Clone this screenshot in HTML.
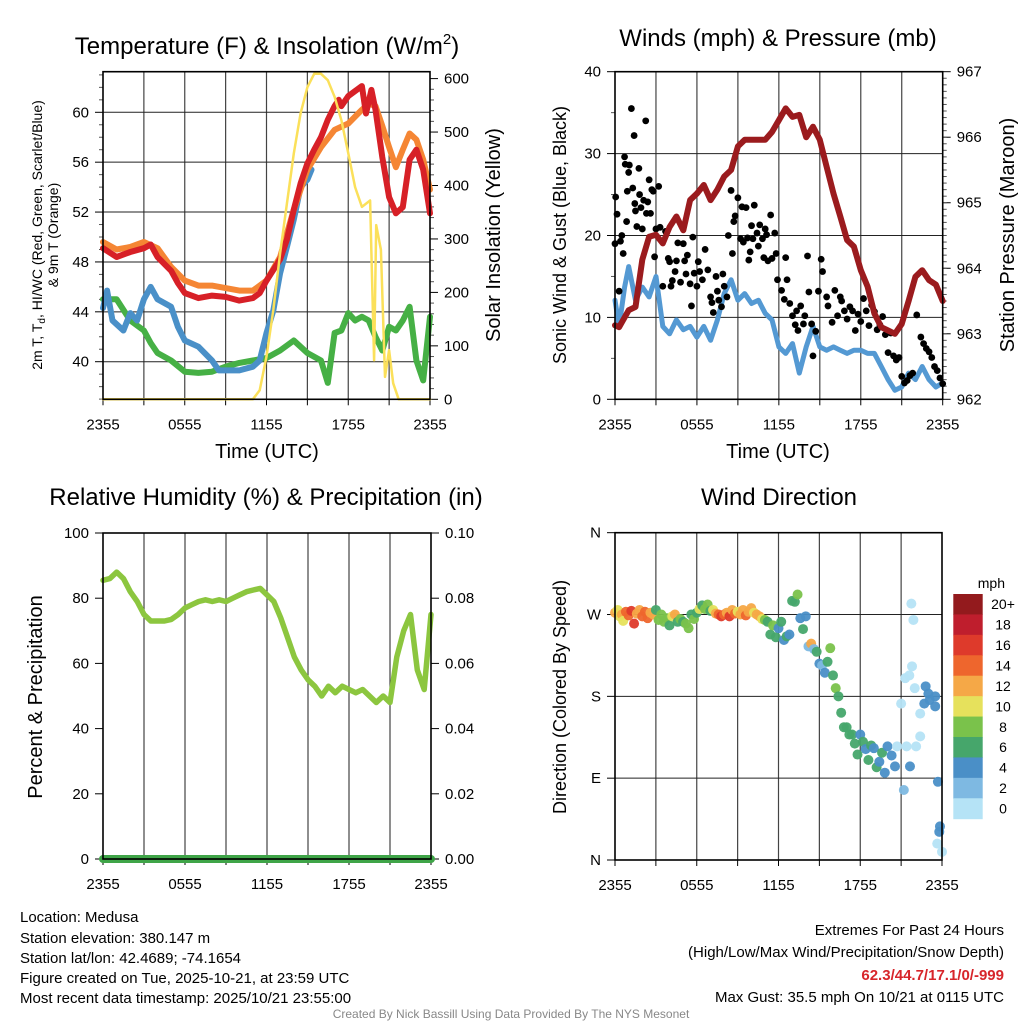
<!DOCTYPE html>
<html><head><meta charset="utf-8"><style>
body{margin:0;background:#fff}
svg text{font-family:"Liberation Sans",sans-serif;fill:#000}
</style></head><body>
<svg id="c" width="1024" height="1024" viewBox="0 0 1024 1024">
<rect width="1024" height="1024" fill="#fff"/>
<g id="g"></g>
<text x="267" y="54" font-size="24" text-anchor="middle">Temperature (F) &amp; Insolation (W/m<tspan font-size="15" dy="-10">2</tspan><tspan dy="10">)</tspan></text>
<text x="778" y="46" font-size="24" text-anchor="middle">Winds (mph) &amp; Pressure (mb)</text>
<text x="266" y="505" font-size="24" text-anchor="middle">Relative Humidity (%) &amp; Precipitation (in)</text>
<text x="779" y="505" font-size="24" text-anchor="middle">Wind Direction</text>
<text transform="translate(42,235) rotate(-90)" font-size="14" text-anchor="middle">2m T, T<tspan font-size="10" dy="3">d</tspan><tspan dy="-3">, HI/WC (Red, Green, Scarlet/Blue)</tspan></text>
<text transform="translate(58,235) rotate(-90)" font-size="14" text-anchor="middle">&amp; 9m T (Orange)</text>
<text transform="translate(500,235) rotate(-90)" font-size="20" text-anchor="middle">Solar Insolation (Yellow)</text>
<text transform="translate(566,235) rotate(-90)" font-size="18" text-anchor="middle">Sonic Wind &amp; Gust (Blue, Black)</text>
<text transform="translate(1014,235) rotate(-90)" font-size="20" text-anchor="middle">Station Pressure (Maroon)</text>
<text transform="translate(42,697) rotate(-90)" font-size="20" text-anchor="middle">Percent &amp; Precipitation</text>
<text transform="translate(566,697) rotate(-90)" font-size="18" text-anchor="middle">Direction (Colored By Speed)</text>
<text x="267" y="458" font-size="20" text-anchor="middle">Time (UTC)</text>
<text x="778" y="458" font-size="20" text-anchor="middle">Time (UTC)</text>
<text x="1005" y="588" font-size="14" text-anchor="end">mph</text>
<g font-size="15">
<text x="20" y="922">Location: Medusa</text>
<text x="20" y="943">Station elevation: 380.147 m</text>
<text x="20" y="963">Station lat/lon: 42.4689; -74.1654</text>
<text x="20" y="983">Figure created on Tue, 2025-10-21, at 23:59 UTC</text>
<text x="20" y="1003">Most recent data timestamp: 2025/10/21 23:55:00</text>
</g>
<g font-size="15" text-anchor="end">
<text x="1004" y="935">Extremes For Past 24 Hours</text>
<text x="1004" y="957">(High/Low/Max Wind/Precipitation/Snow Depth)</text>
<text x="1004" y="980" style="fill:#d7262b;font-weight:bold">62.3/44.7/17.1/0/-999</text>
<text x="1004" y="1002">Max Gust: 35.5 mph On 10/21 at 0115 UTC</text>
</g>
<text x="511" y="1018" font-size="12" text-anchor="middle" style="fill:#888">Created By Nick Bassill Using Data Provided By The NYS Mesonet</text>
</svg>
<script>
// ---- Temperature panel data (hours since 2355) ----
const tRedT=[0,1,2,3,3.5,4,5,5.5,6,7,8,9,10,11,11.5,12,13,13.5,14,14.5,15,15.5,16,16.5,17,17.3,17.5,18,18.5,19,19.3,19.7,20,20.5,21,21.5,22,22.5,23,23.5,24];
const redT=[49.1,48.4,48.8,49.1,49.4,48.4,47.3,46.3,45.5,45.1,45.3,45.2,44.9,45.1,45.5,46.5,48.2,49.8,52.2,54.3,55.9,57,58,59.4,60.5,61,60.5,61.3,61.7,62.1,59.9,61.8,60.2,56.4,53.2,51.9,52.4,56.2,57,55.4,51.9];
const tOrange=[0,1,2,3,4,5,6,7,8,9,10,11,12,13,14,15,16,17,18,19,19.5,20,20.5,21,21.5,22,22.5,23,23.5,24];
const orangeT=[49.6,49,49.2,49.6,49.1,47.6,46.5,46.1,46.1,45.9,45.7,45.7,46.5,48.4,52.2,55.4,57.2,58.6,59.1,60.2,60.7,60.5,58.9,57.2,55.6,57,58.3,57.8,56.2,53.8];
const tBlue=[0,0.3,0.7,1.5,2,2.5,3,3.5,4,5,5.5,6,7,8,8.5,9,10,11,11.5,12,12.5,13,13.5,14,14.5,15,15.3];
const blueTd=[44.3,45.7,43.3,42.5,43.9,43.3,45,46,45,44.4,42.8,41.7,41.2,40.1,39.3,39.3,39.3,39.6,40.1,42.3,44.1,47.1,49.2,51.4,54,54.6,55.4];
const tGreen=[0,1,2,3,3.5,4,5,6,7,8,9,10,11,12,13,14,15,16,16.5,17,17.5,18,18.5,19,19.5,20,20.5,21,21.5,22,22.5,23,23.5,24];
const greenHI=[45,45,43.3,42.5,41.5,40.7,40.1,39.2,39.1,39.2,39.6,39.9,40.1,40.3,40.9,41.7,40.7,40.1,38.3,42.3,42.5,43.9,43.3,43.6,43.3,42,40.9,42.8,42.5,43.3,44.4,40.1,38.5,43.6];
const tSolar=[0,11,11.5,12,12.5,13,13.5,14,14.5,15,15.5,16,16.5,17,17.5,18,18.5,19,19.6,19.9,20.05,20.4,20.7,21,21.3,21.7,24];
const solar=[0,0,17,80,167,273,366,460,535,584,609,609,597,566,522,460,397,360,372,73,326,280,42,92,30,0,0];
// ---- Wind panel ----
const tWind=[0,0.3,0.7,1,1.5,2,2.5,3,3.5,4,4.5,5,5.5,6,6.5,7,7.5,8,8.5,9,9.5,10,10.5,11,11.5,12,12.5,13,13.5,14,14.5,15,15.5,16,16.5,17,17.5,18,18.5,19,19.5,20,20.5,21,21.5,22,22.5,23,23.5,24];
const windSpd=[12.1,8.9,13.7,16.2,12.1,13.7,12.5,15,8.9,8,9.7,8.5,8.9,7.6,8.9,7.2,9.7,12.9,14.6,12.1,12.9,11.7,12.1,10.5,9.7,6.4,5.6,6.8,3.2,6.4,8.9,6.4,6,6.4,6,5.6,6,6,5.6,5.6,4,2.4,1.1,1.5,3.2,2.4,4,2.4,1.5,2];
const tPres=[0,0.3,1,1.5,2,2.5,3,3.5,4,4.5,5,5.5,6,6.5,7,7.5,8,8.5,9,9.5,10,11,11.5,12,12.5,13,13.5,14,14.5,15,15.5,16,16.5,17,17.5,18,18.5,19,19.5,20,20.5,21,21.5,22,22.5,23,23.5,24];
const pres=[963.13,963.1,963.36,963.41,964.13,964.48,964.51,964.38,964.63,964.79,964.58,965.04,965.14,965.27,965.04,965.2,965.4,965.5,965.86,965.96,965.96,965.96,966.08,966.26,966.44,966.31,966.34,966,966.16,965.96,965.55,965.14,964.79,964.43,964.33,963.97,963.72,963.31,963.1,963.05,963,963.15,963.5,963.87,963.97,963.82,963.75,963.5];
const tGust=[0,0.05,0.15,0.3,0.4,0.5,0.6,0.7,0.75,0.85,0.9,1,1.05,1.2,1.3,1.4,1.45,1.5,1.6,1.75,1.8,1.9,2,2.1,2.25,2.3,2.4,2.5,2.6,2.7,2.8,2.9,3,3.2,3.3,3.5,3.7,3.9,4,4.1,4.2,4.4,4.5,4.6,4.8,5,5.1,5.2,5.3,5.5,5.6,5.7,5.8,6,6.1,6.2,6.4,6.6,6.8,7,7.1,7.2,7.4,7.5,7.6,7.8,7.9,8,8.2,8.3,8.5,8.6,8.7,8.8,9,9.2,9.3,9.4,9.6,9.7,9.8,9.9,10,10.1,10.2,10.4,10.5,10.6,10.8,10.9,11,11.1,11.2,11.4,11.5,11.7,11.8,11.9,12.2,12.4,12.5,12.6,12.8,13,13.2,13.3,13.4,13.6,13.8,13.9,14.1,14.2,14.4,14.5,14.7,14.9,15.1,15.2,15.5,15.6,15.9,16.1,16.3,16.5,16.6,16.8,17,17.2,17.4,17.6,17.8,18,18.2,18.4,18.6,18.8,19,19.2,19.4,19.6,19.8,20,20.2,20.4,20.6,20.8,21,21.2,21.4,21.6,21.8,22.1,22.4,22.6,22.8,23,23.2,23.4,23.6,23.8,24];
const gust=[19,24.7,22.6,13.2,19.3,20,17.8,29.6,28.7,21.7,25.4,27.7,28.6,35.5,25.8,32.2,23.9,23,21.1,28.2,25,23.4,20.8,24.3,34,22.7,24.1,26.8,22.7,25.6,25.4,17.4,20.8,26,21,13.8,20.5,17.2,16.8,13.8,14.5,15.6,16.9,19.1,14.3,19,16.9,15.3,17.6,14.1,11.4,19.8,15.4,13.8,16.8,15.6,14.6,18.3,15.8,12.5,11.8,10.6,15,13.2,12.1,11.3,15.3,13.8,12.5,20,25.5,17.8,21.7,22.4,24.6,19.6,23.5,19.2,23.4,19.7,17,18,21.2,19.6,23.7,20.3,18.7,21.3,19.6,17.3,20.8,20.1,16.9,22.5,17.2,20.3,17.8,14.6,13.3,12.2,17.3,14.6,11.7,10.2,9.1,10.8,8.4,11.4,9.2,10.2,17.5,13.1,9.2,5.3,8.3,13.2,17.1,15.6,12.5,11.4,9.4,13.3,10.2,12.5,12,10.8,9.8,11.3,10.8,8.4,10.4,9.5,12.3,10.8,9,11.5,10.7,8.5,9.1,10.1,7.9,5.7,8.1,5.3,4.8,5.1,2.8,2,2.3,2.9,3.2,10.3,7.6,6.8,6.2,5.8,5.1,4,3.5,2.6,1.9];
// ---- RH panel ----
const tRH=[0,0.5,1,1.5,2,2.5,3,3.5,4,4.5,5,5.5,6,6.5,7,7.5,8,8.5,9,9.5,10,10.5,11,11.5,12,12.5,13,13.5,14,14.5,15,15.5,16,16.5,17,17.5,18,18.5,19,19.5,20,20.5,21,21.5,22,22.5,23,23.5,24];
const rh=[85.5,86,88,86,82,79,75,73,73,73,73.5,75,77,78,79,79.5,79,79.5,79,80,81,82,82.5,83,81,79,74,68,62,58,55,53,50,53,51,53,52,51,52,50,48,50,48,62,70,75,58,52,75];
const precip=[0,0];
const tPrecip=[0,24];
// ---- Wind direction panel ----
const tDir=[0,0.2,0.35,0.5,0.6,0.8,1,1.2,1.4,1.6,1.8,2,2.2,2.4,2.6,2.8,3,3.2,3.4,3.6,3.8,4,4.2,4.4,4.6,4.8,5,5.2,5.4,5.6,5.8,6,6.2,6.4,6.6,6.8,7,7.2,7.4,7.6,7.8,8,8.2,8.4,8.6,8.8,9,9.2,9.4,9.6,9.8,10,10.2,10.4,10.6,10.8,11,11.2,11.4,11.6,11.8,12,12.2,12.4,12.6,12.8,13,13.2,13.4,13.6,13.8,14,14.2,14.4,14.6,14.8,15,15.2,15.4,15.6,15.8,16,16.2,16.4,16.6,16.8,17,17.2,17.4,17.6,17.8,18,18.2,18.4,18.6,18.8,19,19.2,19.4,19.6,19.8,20,20.3,20.55,20.7,21,21.2,21.3,21.4,21.6,21.65,21.75,21.8,21.9,22,22.1,22.4,22.4,22.7,22.8,23,23.1,23.5,23.5,23.65,23.7,23.8,23.85,24];
const dirDeg=[272,275,268,270,263,273,269,274,260,271,275,268,273,266,272,270,275,264,270,262,266,258,268,270,262,265,262,260,255,270,265,272,276,280,276,281,274,275,271,270,268,270,272,268,275,271,273,270,275,269,273,277,272,270,268,265,264,262,248,258,245,255,262,242,246,248,285,284,292,266,254,268,235,238,232,229,216,214,206,218,233,203,189,180,162,146,146,138,138,128,116,138,130,122,110,126,123,102,108,118,96,125,115,103,125,172,77,200,125,203,103,282,213,264,189,125,161,136,172,191,183,176,180,169,18,86,31,37,9];
const dirSpd=[13,10,11,12,10,14,15,17,17,13,12,14,15,14,13,12,6,8,9,8,8,7,10,12,7,8,6,8,8,6,8,7,11,6,9,8,7,10,13,14,17,15,13,16,12,14,11,13,12,14,13,12,11,12,13,10,8,7,6,8,6,4,6,4,6,4,6,7,8,4,6,4,3,12,2,6,4,2,5,6,8,6,8,7,6,6,7,6,6,6,6,4,6,5,6,6,5,6,5,6,4,4,4,5,1,1,3,1,1,1,5,1,1,1,1,1,1,1,5,4,5,5,4,5,1,5,5,5,1];
const cbLabels=["20+","18","16","14","12","10","8","6","4","2","0"];
const cbColors=["#931a1d","#bf1e2d","#de3a2b","#ee662d","#f5a847","#e6e15c","#7ac24b","#46a66b","#4a8fc7","#7eb9e2","#b5e3f6"];

const NS="http://www.w3.org/2000/svg";
const G=document.getElementById('g');
function mk(tag,attrs,parent){const e=document.createElementNS(NS,tag);for(const k in attrs)e.setAttribute(k,attrs[k]);(parent||G).appendChild(e);return e;}
function txt(x,y,s,size,anchor,parent){const t=mk('text',{x:x,y:y,'font-size':size,'text-anchor':anchor},parent);t.textContent=s;return t;}
function spdColor(s){let i=Math.floor(s/2);if(i>10)i=10;return cbColors[10-i];}

function panel(name,x0,x1,y0,y1){
  const g=mk('g',{});
  
  
  const X=h=>x0+h/24*(x1-x0);
  return {g,x0,x1,y0,y1,X};
}
function frame(P,gridYs){
  const {g,x0,x1,y0,y1,X}=P;
  for(let k=1;k<8;k++){const gl=mk('line',{x1:X(k*3),x2:X(k*3),y1:y0,y2:y1,stroke:'#444','stroke-width':1.2},g);}
  gridYs.forEach(y=>{const gl=mk('line',{x1:x0,x2:x1,y1:y,y2:y,stroke:'#222','stroke-width':1},g);});
  const labs=["2355","0555","1155","1755","2355"];
  for(let k=0;k<=8;k++){mk('line',{x1:X(k*3),x2:X(k*3),y1:y1,y2:y1+6,stroke:'#000'},g);}
  labs.forEach((l,i)=>{const t=txt(X(i*6),y1+30,l,15,'middle',g);});
}
function border(P){const {g,x0,x1,y0,y1}=P;const r=mk('rect',{x:x0,y:y0,width:x1-x0,height:y1-y0,fill:'none',stroke:'#000','stroke-width':1.6},g);}
function line(P,ts,vs,Y,color,w,name){
  const pts=ts.map((t,i)=>P.X(t).toFixed(1)+','+Y(vs[i]).toFixed(1)).join(' ');
  const l=mk('polyline',{points:pts,fill:'none',stroke:color,'stroke-width':w,'stroke-linejoin':'round','stroke-linecap':'round'},P.g);
  
  
}
function yTicks(P,vals,Y,labels,side,minor){
  const {g,x0,x1}=P;
  vals.forEach((v,i)=>{const y=Y(v);
    if(side==='l'){mk('line',{x1:x0-8,x2:x0,y1:y,y2:y,stroke:'#000'},g);const t=txt(x0-14,y+5,labels[i],15,'end',g);}
    else{mk('line',{x1:x1,x2:x1+8,y1:y,y2:y,stroke:'#000'},g);const t=txt(x1+14,y+5,labels[i],15,'start',g);}
  });
  (minor||[]).forEach(v=>{const y=Y(v);if(side==='l')mk('line',{x1:x0-4,x2:x0,y1:y,y2:y,stroke:'#555'},g);else mk('line',{x1:x1,x2:x1+4,y1:y,y2:y,stroke:'#555'},g);});
}

// Panel 1
(function(){
  const P=panel('temperature-panel',103,430,71.7,399.3);
  const Y=v=>361.7-(v-40)*12.47;
  const Ys=v=>399.3-v*0.5345;
  const tv=[40,44,48,52,56,60];
  frame(P,tv.map(Y));
  const mn=[];for(let v=37;v<=63;v++)if(v%4)mn.push(v);
  yTicks(P,tv,Y,tv.map(String),'l',mn);
  const sv=[0,100,200,300,400,500,600];const smn=[];for(let v=20;v<610;v+=20)if(v%100)smn.push(v);
  yTicks(P,sv,Ys,sv.map(String),'r',smn);
  line(P,tGreen,greenHI,Y,'#46b045',6,'heat-index-line');
  line(P,tBlue,blueTd,Y,'#4a90c8',6,'dewpoint-line');
  line(P,tOrange,orangeT,Y,'#f58634',6,'temp-9m-line');
  line(P,tRedT,redT,Y,'#d72027',6,'temp-2m-line');
  line(P,tSolar,solar,Ys,'#fbe05a',2.5,'solar-line');
  border(P);
})();
// Panel 2
(function(){
  const P=panel('wind-panel',615,942.7,71.7,399.3);
  const Y=v=>399.3-v*8.19;
  const Yp=v=>399.3-(v-962)*65.52;
  const tv=[0,10,20,30,40];
  frame(P,tv.map(Y));
  yTicks(P,tv,Y,tv.map(String),'l',[5,15,25,35]);
  const pv=[962,963,964,965,966,967];const pmn=[];for(let v=962.1;v<967;v+=0.1)pmn.push(v);
  yTicks(P,pv,Yp,pv.map(String),'r',pmn);
  line(P,tWind,windSpd,Y,'#5499d3',5,'wind-speed-line');
  tGust.forEach((t,i)=>{const c=mk('circle',{cx:P.X(t),cy:Y(gust[i]),r:3.4,fill:'#000'},P.g);});
  line(P,tPres,pres,Yp,'#9b1b1e',6,'pressure-line');
  border(P);
})();
// Panel 3
(function(){
  const P=panel('humidity-panel',103,431,533,859);
  const Y=v=>859-v*3.26;
  const Yp=v=>859-v*3260;
  const tv=[0,20,40,60,80,100];
  frame(P,[]);
  yTicks(P,tv,Y,tv.map(String),'l',[]);
  const pv=[0,0.02,0.04,0.06,0.08,0.10];
  yTicks(P,pv,Yp,pv.map(v=>v.toFixed(2)),'r',[]);
  line(P,tRH,rh,Y,'#8cc63f',5.5,'rh-line');
  line(P,tPrecip,precip,Yp,'#3fa548',8,'precip-line');
  border(P);
})();
// Panel 4
(function(){
  const P=panel('direction-panel',615,942,532.7,860);
  const Y=v=>860-v*0.9092;
  const tv=[0,90,180,270,360];
  frame(P,tv.map(Y));
  yTicks(P,tv,Y,["N","E","S","W","N"],'l',[]);
  tDir.forEach((t,i)=>{const c=mk('circle',{cx:P.X(t),cy:Y(dirDeg[i]),r:5,fill:spdColor(dirSpd[i]),'fill-opacity':0.95},P.g);});
  border(P);
  const cb=mk('g',{});
  
  
  const h=(818.7-594)/11;
  cbLabels.forEach((l,i)=>{mk('rect',{x:953.3,y:594+i*h,width:29.4,height:h+0.5,fill:cbColors[i]},cb);txt(1003,594+i*h+h/2+5,l,14,'middle',cb);});
})();
</script>
</body></html>
